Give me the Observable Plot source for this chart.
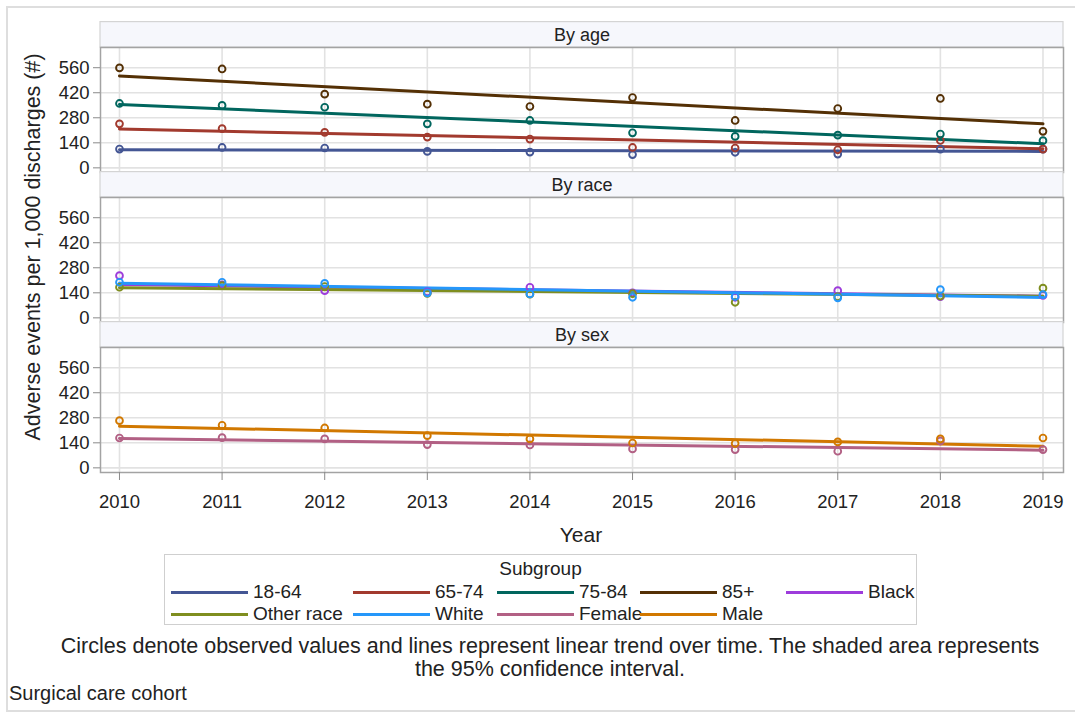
<!DOCTYPE html>
<html>
<head>
<meta charset="utf-8">
<script src="https://cdn.jsdelivr.net/npm/d3@7"></script>
<script src="https://cdn.jsdelivr.net/npm/@observablehq/plot@0.6"></script>
<style>
  body { margin: 0; background: #fff; font-family: "Liberation Sans", Arial, sans-serif; color: #222; }
  #wrap { position: relative; width: 1075px; height: 717px; overflow: hidden; background: #fff; }
  #border { position: absolute; left: 6px; top: 6px; width: 1090px; height: 706px; border: 2px solid #dedede; box-sizing: border-box; }
  #chart { position: absolute; left: 0; top: 0; }
  #ylabel { position: absolute; left: 33px; top: 247px; transform: translate(-50%, -50%) rotate(-90deg); font-size: 21.5px; white-space: nowrap; }
  #xlabel { position: absolute; left: 581px; top: 535px; transform: translate(-50%, -50%); font-size: 21px; }
  #legend { position: absolute; left: 164px; top: 554px; width: 753px; height: 71px; border: 1.5px solid #cfcfcf; box-sizing: border-box; }
  #legend .title { position: absolute; left: 0; width: 100%; top: 14px; transform: translateY(-50%); text-align: center; font-size: 19px; }
  #legend .item { position: absolute; display: flex; align-items: center; font-size: 19px; white-space: nowrap; transform: translateY(-50%); }
  #legend .sw { display: inline-block; width: 77px; height: 3px; margin-right: 5px; }
  .cap { position: absolute; font-size: 21.5px; white-space: nowrap; transform: translateY(-50%); }
</style>
</head>
<body>
<div id="wrap">
  <div id="border"></div>
  <div id="chart"></div>
  <div id="ylabel">Adverse events per 1,000 discharges (#)</div>
  <div id="xlabel">Year</div>
  <div id="legend"></div>
  <div class="cap" style="left:0;width:1100px;text-align:center;top:646px;">Circles denote observed values and lines represent linear trend over time. The shaded area represents</div>
  <div class="cap" style="left:0;width:1100px;text-align:center;top:669px;">the 95% confidence interval.</div>
  <div class="cap" style="left:9px;top:693px;font-size:20px;">Surgical care cohort</div>
</div>
<script>
// ---- data ----
const years = [2010, 2011, 2012, 2013, 2014, 2015, 2016, 2017, 2018, 2019];
const yTicks = [0, 140, 280, 420, 560];
const panels = ["By age", "By race", "By sex"];
const subgroups = ["18-64", "65-74", "75-84", "85+", "Black", "Other race", "White", "Female", "Male"];
const subgroupPanel = ["By age", "By age", "By age", "By age", "By race", "By race", "By race", "By sex", "By sex"];
const colors = ["#445694", "#A23A2E", "#01665E", "#543005", "#9D3CDB", "#7F8E1F", "#2597FA", "#B26084", "#D17800"];

// observed values (circles), one per year
const obs18_64 = [105, 114, 111, 92, 88, 74, 87, 77, 105, 105];
const obs65_74 = [246, 219, 198, 172, 161, 114, 111, 101, 153, 105];
const obs75_84 = [360, 349, 339, 246, 265, 196, 176, 183, 189, 152];
const obs85 = [559, 553, 412, 356, 343, 393, 265, 332, 388, 204];
const obsBlack = [236, 185, 152, 145, 171, 140, 115, 152, 118, 125];
const obsOther = [171, 180, 175, 137, 132, 135, 87, 118, 122, 166];
const obsWhite = [199, 199, 193, 140, 134, 115, 120, 112, 158, 130];
const obsFemale = [167, 169, 162, 130, 128, 106, 102, 93, 150, 102];
const obsMale = [264, 238, 223, 180, 162, 139, 136, 145, 162, 167];
const observed = [obs18_64, obs65_74, obs75_84, obs85, obsBlack, obsOther, obsWhite, obsFemale, obsMale];

// linear trend line values at 2010 and 2019
const trendStart = [101, 217, 354, 514, 186, 168, 194, 164, 233];
const trendEnd = [92, 107, 135, 246, 121, 121, 114, 99, 121];

// ---- tables for the library ----
const points = [];
subgroups.forEach((g, k) => years.forEach((yr, i) => points.push({panel: subgroupPanel[k], group: g, year: yr, value: observed[k][i]})));
const trends = [];
subgroups.forEach((g, k) => {
  trends.push({panel: subgroupPanel[k], group: g, year: years[0], value: trendStart[k]});
  trends.push({panel: subgroupPanel[k], group: g, year: years[years.length - 1], value: trendEnd[k]});
});

const NS = "http://www.w3.org/2000/svg";
const headerH = 25.4;
function frameWithHeader(index, scales, values, dims, context, next) {
  const g = document.createElementNS(NS, "g");
  const r = document.createElementNS(NS, "rect");
  r.setAttribute("x", dims.marginLeft);
  r.setAttribute("y", dims.marginTop - headerH);
  r.setAttribute("width", dims.width - dims.marginLeft - dims.marginRight);
  r.setAttribute("height", headerH);
  r.setAttribute("fill", "#f6f7fc");
  r.setAttribute("stroke", "#d4d4d4");
  r.setAttribute("stroke-width", "1.2");
  g.appendChild(r);
  g.appendChild(next(index, scales, values, dims, context));
  return g;
}

const chart = Plot.plot({
  width: 1075,
  height: 520,
  marginLeft: 100,
  marginRight: 12,
  marginTop: 46,
  marginBottom: 47,
  style: {fontFamily: '"Liberation Sans", Arial, sans-serif', fontSize: "18px", color: "#222", background: "transparent", overflow: "visible"},
  x: {domain: [2009.815, 2019.2], label: null},
  y: {domain: [-26, 673], label: null},
  fy: {domain: panels, paddingInner: 0.1684, paddingOuter: 0, label: null, axis: null},
  color: {domain: subgroups, range: colors},
  marks: [
    Plot.frame({fill: "white", stroke: "none"}),
    Plot.gridX(years, {stroke: "#e2e2e2", strokeOpacity: 1, strokeWidth: 1.6}),
    Plot.gridY(yTicks, {stroke: "#e2e2e2", strokeOpacity: 1, strokeWidth: 1.6}),
    Plot.line(trends, {x: "year", y: "value", z: "group", stroke: "group", fy: "panel", strokeWidth: 3}),
    Plot.dot(points, {x: "year", y: "value", stroke: "group", fy: "panel", r: 3.4, strokeWidth: 1.9, fill: "none"}),
    Plot.frame({stroke: "#a3a3a3", strokeWidth: 1.5, render: frameWithHeader}),
    Plot.text(panels, {fy: d => d, text: d => d, frameAnchor: "top", lineAnchor: "middle", dy: -headerH / 2, fontSize: 18, fill: "#222"}),
    Plot.axisY(yTicks, {anchor: "left", tickSize: 7, tickPadding: 4, stroke: "#8a8a8a", fill: "#222", fontSize: 18.5, label: null, tickFormat: d => String(d)}),
    Plot.axisX(years, {anchor: "bottom", tickSize: 8, tickPadding: 14, stroke: "#8a8a8a", fill: "#222", fontSize: 18.5, label: null, tickFormat: d => String(d)})
  ]
});
document.getElementById("chart").appendChild(chart);

// ---- legend ----
const legend = document.getElementById("legend");
const title = document.createElement("div");
title.className = "title";
title.textContent = "Subgroup";
legend.appendChild(title);
const legendCols = [6, 188, 332, 475, 621];
subgroups.forEach((g, k) => {
  const row = k < 5 ? 0 : 1;
  const col = k < 5 ? k : k - 5;
  const it = document.createElement("div");
  it.className = "item";
  it.style.left = legendCols[col] + "px";
  it.style.top = (row === 0 ? 37 : 59) + "px";
  const sw = document.createElement("span");
  sw.className = "sw";
  sw.style.background = colors[k];
  const tx = document.createElement("span");
  tx.textContent = g;
  it.appendChild(sw);
  it.appendChild(tx);
  legend.appendChild(it);
});
</script>
</body>
</html>
